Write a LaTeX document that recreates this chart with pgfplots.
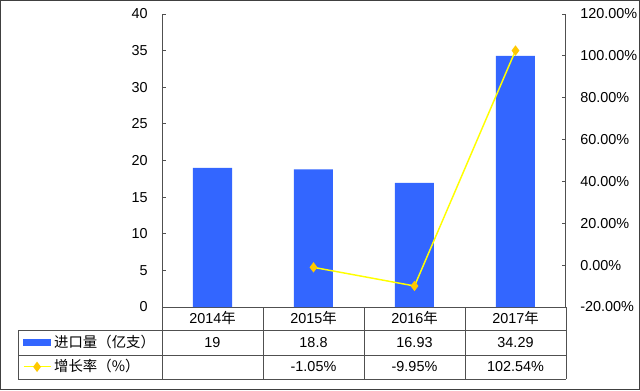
\documentclass[border=0pt]{standalone}
\usepackage{pgfplots}
\pgfplotsset{compat=1.18}
\usepackage{fontspec}
\setmainfont{Liberation Sans}
\newfontfamily\cjk{Noto Sans CJK SC}
\definecolor{barblue}{RGB}{51,102,255}
\definecolor{lineyellow}{RGB}{255,255,0}
\definecolor{markgold}{RGB}{255,200,0}
\definecolor{axisgray}{RGB}{80,80,80}
\definecolor{framegray}{RGB}{64,64,64}
\pgfplotsset{
  barleg/.style={legend image code/.code={\fill[barblue] (0pt,-2.25pt) rectangle (20.25pt,2.25pt);}},
  lineleg/.style={legend image code/.code={%
    \draw[lineyellow, line width=0.9pt] (0pt,0pt) -- (20.25pt,0pt);
    \draw[markgold, fill=markgold] plot[mark=diamond*, mark size=3pt] coordinates {(10.1pt,0pt)};}},
}
\begin{document}
\begin{tikzpicture}[font=\fontsize{10.8}{13}\selectfont]
% bars, left axis
\begin{axis}[
  at={(121.5pt,-230.25pt)}, anchor=south west,
  scale only axis, width=303pt, height=219.75pt,
  xmin=-0.5, xmax=3.5, ymin=0, ymax=40,
  axis y line*=left, axis x line*=bottom,
  axis line style={axisgray, line width=0.75pt},
  tick align=inside, major tick length=3pt,
  tick style={axisgray, line width=0.75pt},
  xtick={0,1,2,3},
  xticklabels={2014{\cjk 年},2015{\cjk 年},2016{\cjk 年},2017{\cjk 年}},
  xtick style={draw=none},
  xticklabel style={anchor=base, inner sep=0pt, yshift=-12pt},
  ytick={0,5,...,40},
  yticklabel style={anchor=east, inner sep=0pt, xshift=-10.5pt},
  /pgf/number format/assume math mode=true,
  clip=false,
]
\addplot[ybar, bar width=29.25pt, bar shift=0pt, fill=barblue, draw=none]
  coordinates {(0,19) (1,18.8) (2,16.93) (3,34.29)};
\end{axis}
% line, right axis
\begin{axis}[
  at={(121.5pt,-230.25pt)}, anchor=south west,
  scale only axis, width=303pt, height=219.75pt,
  xmin=-0.5, xmax=3.5, ymin=-20, ymax=120,
  axis y line*=right, axis x line=none,
  axis line style={axisgray, line width=0.75pt},
  tick align=inside, major tick length=3pt,
  tick style={axisgray, line width=0.75pt},
  ytick={-20,0,...,120},
  yticklabel={\pgfmathprintnumber[fixed,fixed zerofill,precision=2]{\tick}\%},
  yticklabel style={anchor=west, inner sep=0pt, xshift=10.5pt},
  /pgf/number format/assume math mode=true,
  clip=false,
  legend style={at={(axis description cs:-0.3441,-0.0785)}, anchor=north west,
    draw=none, fill=none, inner sep=0pt, outer sep=0pt, row sep=0pt,
    column sep=2.25pt,
    nodes={inner sep=0pt, minimum height=18.4pt, anchor=west}},
  legend cell align=left,
]
\addlegendimage{barleg}
\addlegendentry{\cjk 进口量（亿支）}
\addplot[lineyellow, line width=1.1pt, mark=diamond*, mark size=3pt,
  mark options={fill=markgold, draw=markgold}, lineleg]
  coordinates {(1,-1.05) (2,-9.95) (3,102.54)};
\addlegendentry{\cjk 增长率（\%）}
\end{axis}
% table and frame in pixel coordinates
\begin{scope}[x=0.75pt, y=-0.75pt]
  \useasboundingbox (0,0) rectangle (640,390);
  \draw[framegray, line width=0.9pt] (0.6,0.6) rectangle (639.4,389.4);
  \draw[axisgray, line width=0.75pt]
    (18,330) -- (566,330)
    (18,355) -- (566,355)
    (18,379) -- (566,379)
    (18,330) -- (18,379)
    (162,307) -- (162,379)
    (263,307) -- (263,379)
    (364,307) -- (364,379)
    (465,307) -- (465,379)
    (566,307) -- (566,379);
  \node[anchor=base, inner sep=0pt] at (212.5,347) {19};
  \node[anchor=base, inner sep=0pt] at (313.5,347) {18.8};
  \node[anchor=base, inner sep=0pt] at (414.5,347) {16.93};
  \node[anchor=base, inner sep=0pt] at (515.5,347) {34.29};
  \node[anchor=base, inner sep=0pt] at (313.5,371) {-1.05\%};
  \node[anchor=base, inner sep=0pt] at (414.5,371) {-9.95\%};
  \node[anchor=base, inner sep=0pt] at (515.5,371) {102.54\%};
\end{scope}
\end{tikzpicture}
\end{document}
